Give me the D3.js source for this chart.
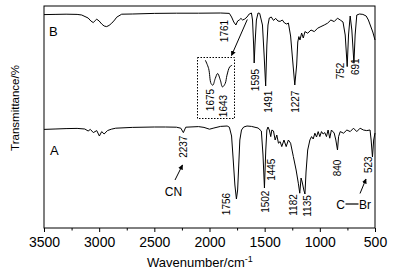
<!DOCTYPE html>
<html>
<head>
<meta charset="utf-8">
<script src="https://cdn.jsdelivr.net/npm/d3@7"></script>
<style>
  body { margin: 0; background: #fff; }
  svg { display: block; font-family: Arial, "Liberation Sans", sans-serif; }
</style>
</head>
<body>
<svg id="chart"></svg>
<script>
// Spectrum A (wavenumber / transmittance, arbitrary offset units)
const wavesA = [3500, 3400, 3300, 3200, 3130, 3100, 3080, 3053, 3022, 2998, 2977, 2955, 2925, 2890, 2850, 2700, 2500, 2400, 2300, 2260, 2237, 2215, 2100, 2050, 2000, 1960, 1900, 1840, 1820, 1800, 1785, 1770, 1756, 1745, 1735, 1725, 1710, 1690, 1660, 1620, 1560, 1530, 1515, 1502, 1490, 1480, 1470, 1458, 1445, 1435, 1420, 1405, 1390, 1375, 1360, 1345, 1325, 1305, 1285, 1265, 1240, 1215, 1195, 1182, 1170, 1160, 1145, 1135, 1125, 1110, 1090, 1075, 1060, 1045, 1030, 1015, 1000, 985, 970, 955, 940, 925, 910, 895, 870, 855, 840, 830, 815, 785, 755, 725, 695, 665, 635, 605, 575, 545, 535, 523, 512, 500];
const transA = [49.3, 49.5, 49.7, 49.8, 49.5, 48.5, 49.3, 47.7, 48.7, 46, 48.2, 47, 48.7, 49.4, 49.9, 50.3, 50.5, 50.5, 50.4, 49.9, 47.7, 50.4, 50.7, 50.3, 49.4, 50, 50.8, 51, 50.4, 46, 34, 21.5, 14.5, 19, 31.5, 44, 49, 50.5, 51, 50.8, 50, 48.5, 36.5, 20, 39, 49, 50.5, 49, 45.7, 49, 48.5, 44, 46.5, 42.4, 43.2, 40.7, 44, 40.7, 44, 42.4, 35.7, 29, 22.4, 17.4, 25, 23, 19, 17, 28, 39, 44, 45.7, 44.5, 47.4, 45.5, 48.2, 45.7, 48.2, 47, 47.7, 45.7, 49, 44.9, 49, 47.5, 44, 39, 45.7, 48.2, 47.4, 49, 48.2, 49.9, 48.2, 49.9, 49, 48.7, 49, 44, 35.5, 44, 47.5];

// Spectrum B
const wavesB = [3500, 3400, 3300, 3200, 3158, 3100, 3075, 3053, 3035, 3022, 3000, 2977, 2955, 2932, 2910, 2886, 2860, 2841, 2796, 2700, 2500, 2300, 2100, 1900, 1820, 1800, 1780, 1761, 1745, 1730, 1715, 1700, 1680, 1660, 1640, 1620, 1610, 1600, 1595, 1588, 1575, 1560, 1545, 1520, 1505, 1491, 1480, 1470, 1458, 1440, 1420, 1400, 1380, 1360, 1340, 1320, 1300, 1285, 1265, 1245, 1227, 1210, 1200, 1190, 1180, 1165, 1150, 1135, 1110, 1080, 1050, 1020, 990, 960, 930, 900, 870, 840, 815, 790, 770, 752, 740, 725, 710, 691, 680, 665, 640, 610, 580, 560, 540, 520, 500];
const transB = [106.7, 106.8, 106.9, 106.8, 106.5, 105, 103.5, 102.7, 103.8, 104.4, 103.5, 102, 101, 100.7, 101.3, 102.4, 104, 105.4, 106.9, 107, 107.3, 107.4, 107.4, 107.5, 107.3, 105.5, 103, 101.5, 103.5, 104, 104.8, 104, 104.5, 105.5, 107, 107.5, 104, 91.5, 82.5, 91.5, 104, 107.5, 107.3, 101.5, 86.5, 71, 91.5, 101.5, 105, 105.5, 103.8, 104.8, 103.5, 103.3, 104, 102.5, 102, 102.5, 96, 83, 71.5, 81.5, 93, 95.7, 94, 97.5, 95, 98.2, 97.4, 99, 98.2, 99.9, 100.7, 101.5, 102.4, 104, 103.2, 104.9, 104, 103, 96.5, 80.7, 96.5, 106, 99, 82.4, 96.5, 106.5, 107, 106.8, 106, 104, 101, 98, 94];

// Magnified inset of B around 1700-1600
const wavesInset = [1700, 1689, 1681, 1675, 1667, 1659, 1650, 1643, 1634, 1628, 1619, 1611];
const transInset = [58.3, 50, 35, 33.3, 40, 45, 38.3, 31.6, 35, 43.3, 51.6, 53.3];

const xTicks = [3500, 3000, 2500, 2000, 1500, 1000, 500];
const xMinorTicks = [3250, 2750, 2250, 1750, 1250, 750];

// Peak labels: [text, wavenumber]
const peaksB = ['1761', '1595', '1491', '1227', '752', '691'];
const peaksInset = ['1675', '1643'];
const peaksA = ['2237', '1756', '1502', '1445', '1182', '1135', '840', '523'];

const W = 406, H = 276;
const svg = d3.select('#chart').attr('width', W).attr('height', H);

const x = d3.scaleLinear().domain([3500, 500]).range([44, 375]);
const y = d3.scaleLinear().domain([0, 111]).range([228, 6]);

const line = d3.line().x(d => x(d[0])).y(d => y(d[1]));

// Frame
svg.append('rect')
    .attr('x', 44).attr('y', 6)
    .attr('width', 331).attr('height', 222)
    .attr('fill', 'none')
    .attr('stroke', '#000')
    .attr('stroke-width', 1);

// Bottom axis
const xAxis = svg.append('g')
    .attr('transform', 'translate(0,228)')
    .call(d3.axisBottom(x).tickValues(xTicks).tickSize(4).tickPadding(5).tickFormat(d3.format('d')));
xAxis.select('.domain').remove();
xAxis.selectAll('text').style('font-size', '14px').attr('fill', '#000');

const xMinor = svg.append('g')
    .attr('transform', 'translate(0,228)')
    .call(d3.axisBottom(x).tickValues(xMinorTicks).tickSize(2.5).tickFormat(''));
xMinor.select('.domain').remove();

// Axis titles
const xTitle = svg.append('text')
    .attr('x', 147).attr('y', 267)
    .style('font-size', '13px')
    .text('Wavenumber/cm');
xTitle.append('tspan')
    .attr('dy', -5)
    .style('font-size', '9px')
    .text('-1');

svg.append('text')
    .attr('transform', 'translate(19,108) rotate(-90)')
    .attr('text-anchor', 'middle')
    .style('font-size', '11.5px')
    .text('Transmittance/%');

// Spectra
svg.append('path')
    .datum(wavesA.map((w, i) => [w, transA[i]]))
    .attr('d', line)
    .attr('fill', 'none')
    .attr('stroke', '#000')
    .attr('stroke-width', 1);

svg.append('path')
    .datum(wavesB.map((w, i) => [w, transB[i]]))
    .attr('d', line)
    .attr('fill', 'none')
    .attr('stroke', '#000')
    .attr('stroke-width', 1);

// Inset (dashed box with magnified curve)
const box = {x0: 197.5, x1: 234.5, y0: 57.5, y1: 118.5};
svg.append('rect')
    .attr('x', box.x0).attr('y', box.y0)
    .attr('width', box.x1 - box.x0).attr('height', box.y1 - box.y0)
    .attr('fill', 'none')
    .attr('stroke', '#000')
    .attr('stroke-width', 1)
    .attr('stroke-dasharray', '1.5,1.5');

const xi = d3.scaleLinear().domain([1726, 1603]).range([box.x0, box.x1]);
const yi = d3.scaleLinear().domain([0, 61]).range([box.y1, box.y0]);
svg.append('path')
    .datum(wavesInset.map((w, i) => [w, transInset[i]]))
    .attr('d', d3.line().x(d => xi(d[0])).y(d => yi(d[1])).curve(d3.curveCatmullRom))
    .attr('fill', 'none')
    .attr('stroke', '#000')
    .attr('stroke-width', 1);

// Arrow marker
svg.append('defs').append('marker')
    .attr('id', 'arrow')
    .attr('viewBox', '0 0 10 10')
    .attr('refX', 9).attr('refY', 5)
    .attr('markerWidth', 5).attr('markerHeight', 5)
    .attr('markerUnits', 'userSpaceOnUse')
    .attr('orient', 'auto')
    .append('path')
    .attr('d', 'M0,0L10,5L0,10z')
    .attr('fill', '#000');

function arrow(x1, y1, x2, y2) {
    svg.append('line')
        .attr('x1', x1).attr('y1', y1)
        .attr('x2', x2).attr('y2', y2)
        .attr('stroke', '#000')
        .attr('stroke-width', 1)
        .attr('marker-end', 'url(#arrow)');
}

// Peak labels: rotated, centred on (cx, cy)
function vlabel(txt, cx, cy) {
    svg.append('text')
        .attr('transform', `translate(${cx},${cy}) rotate(-90)`)
        .attr('text-anchor', 'middle')
        .attr('dy', '0.36em')
        .style('font-size', '10px')
        .text(txt);
}

// offsets from the peak position, and label centre height
const layoutB = [[-11, 31], [1, 80], [2.7, 101.7], [1, 101.7], [-6.4, 71], [1.2, 66.7]];
peaksB.forEach((p, i) => vlabel(p, x(+p) + layoutB[i][0], layoutB[i][1]));

const layoutInset = [[-2.5, 100], [0.7, 106]];
peaksInset.forEach((p, i) => vlabel(p, xi(+p) + layoutInset[i][0], layoutInset[i][1]));

const layoutA = [[0, 146.7], [-9.7, 204], [1.3, 201.7], [1, 169.7], [-6.4, 205], [2.4, 206], [0, 168], [-4.2, 164.7]];
peaksA.forEach((p, i) => vlabel(p, x(+p) + layoutA[i][0], layoutA[i][1]));

arrow(247.3, 19.5, 231.5, 55.5);
arrow(175, 180, 182.5, 165);
arrow(360, 193.5, 366, 179);

// Group and bond labels
svg.append('text').attr('x', 49).attr('y', 36).style('font-size', '13px').text('B');
svg.append('text').attr('x', 50).attr('y', 154.5).style('font-size', '13px').text('A');
svg.append('text').attr('x', 173.5).attr('y', 196).attr('text-anchor', 'middle').style('font-size', '12px').text('CN');
svg.append('text').attr('x', 340.5).attr('y', 208.5).attr('text-anchor', 'middle').style('font-size', '12px').text('C');
svg.append('line').attr('x1', 345.5).attr('x2', 358.5).attr('y1', 204).attr('y2', 204).attr('stroke', '#000').attr('stroke-width', 1.2);
svg.append('text').attr('x', 359).attr('y', 208.5).style('font-size', '12px').text('Br');
</script>
</body>
</html>
